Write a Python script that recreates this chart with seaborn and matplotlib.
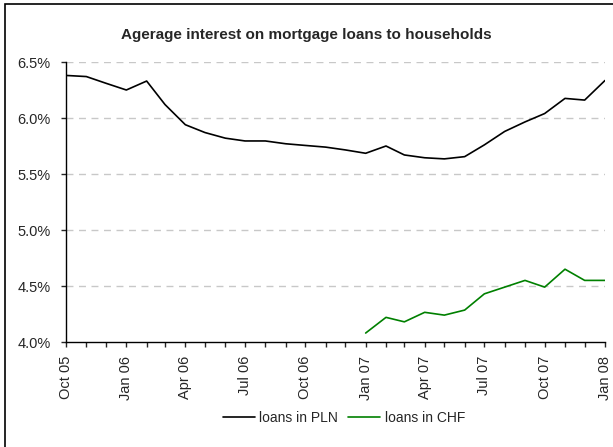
import pandas as pd
import seaborn as sns
import matplotlib.pyplot as plt
import matplotlib.dates as mdates
from matplotlib.ticker import FuncFormatter
from matplotlib.patches import Rectangle

# monthly data, Oct 2005 - Jan 2008
months = pd.date_range("2005-10-01", "2008-01-01", freq="MS")
pln = [6.38, 6.37, 6.31, 6.25, 6.33, 6.12, 5.94, 5.87, 5.82, 5.795,
       5.795, 5.77, 5.755, 5.74, 5.715, 5.685, 5.75, 5.67, 5.645, 5.635,
       5.655, 5.76, 5.88, 5.965, 6.04, 6.175, 6.16, 6.335]
chf_months = pd.date_range("2007-01-01", "2008-01-01", freq="MS")
chf = [4.08, 4.22, 4.18, 4.265, 4.24, 4.285, 4.43, 4.49, 4.55, 4.49,
       4.65, 4.55, 4.55]

df = pd.concat([
    pd.DataFrame({"month": months, "rate": pln, "series": "loans in PLN"}),
    pd.DataFrame({"month": chf_months, "rate": chf, "series": "loans in CHF"}),
])

sns.set_style("white")
plt.rcParams["font.family"] = ["Liberation Sans", "DejaVu Sans"]

fig = plt.figure(figsize=(6.13, 4.47), dpi=100)
ax = fig.add_axes([66 / 613, 1 - 342 / 447, (605 - 66) / 613, (342 - 62) / 447])

# outer frame (only left/top edges are visible in the crop)
fig.patches.append(Rectangle((5 / 613, -0.1), 1.2, 1 - 4 / 447 + 0.1,
                             transform=fig.transFigure, fill=False,
                             edgecolor="black", linewidth=1.2))

sns.lineplot(data=df, x="month", y="rate", hue="series",
             palette={"loans in PLN": "black", "loans in CHF": "#008000"},
             linewidth=1.2, ax=ax, legend=True)

ax.set_ylim(4.0, 6.5)
ax.set_xlim(months[0], months[-1])
ax.set_yticks([4.0, 4.5, 5.0, 5.5, 6.0, 6.5])
ax.yaxis.set_major_formatter(FuncFormatter(lambda v, p: f"{v:.1f}%"))
ax.xaxis.set_major_locator(mdates.MonthLocator(bymonth=[1, 4, 7, 10]))
ax.xaxis.set_minor_locator(mdates.MonthLocator())
ax.xaxis.set_major_formatter(mdates.DateFormatter("%b %y"))
ax.tick_params(axis="x", which="both", direction="out", length=3.6, width=1,
               bottom=True, labelsize=10.5, rotation=90, pad=6.5)
ax.tick_params(axis="y", direction="out", length=3.6, width=1, left=True,
               labelsize=10.5, pad=7.5)

for v in [4.5, 5.0, 5.5, 6.0, 6.5]:
    ax.axhline(v, color="#c8c8c8", linewidth=1, linestyle=(0, (5, 4)), zorder=0)

for s in ["top", "right"]:
    ax.spines[s].set_visible(False)
for s in ["left", "bottom"]:
    ax.spines[s].set_color("black")
    ax.spines[s].set_linewidth(1)

ax.set_xlabel("")
ax.set_ylabel("")
fig.text(0.499, 1 - 35 / 447, "Agerage interest on mortgage loans to households",
         ha="center", va="center", fontsize=11, fontweight="bold")

handles, labels = ax.get_legend_handles_labels()
ax.get_legend().remove()
fig.legend(handles, labels, loc="center", bbox_to_anchor=(0.561, 1 - 418 / 447),
           ncol=2, frameon=False, fontsize=10, handlelength=2.3,
           handletextpad=0.35, columnspacing=0.7)

fig.savefig("out.png", dpi=100)
